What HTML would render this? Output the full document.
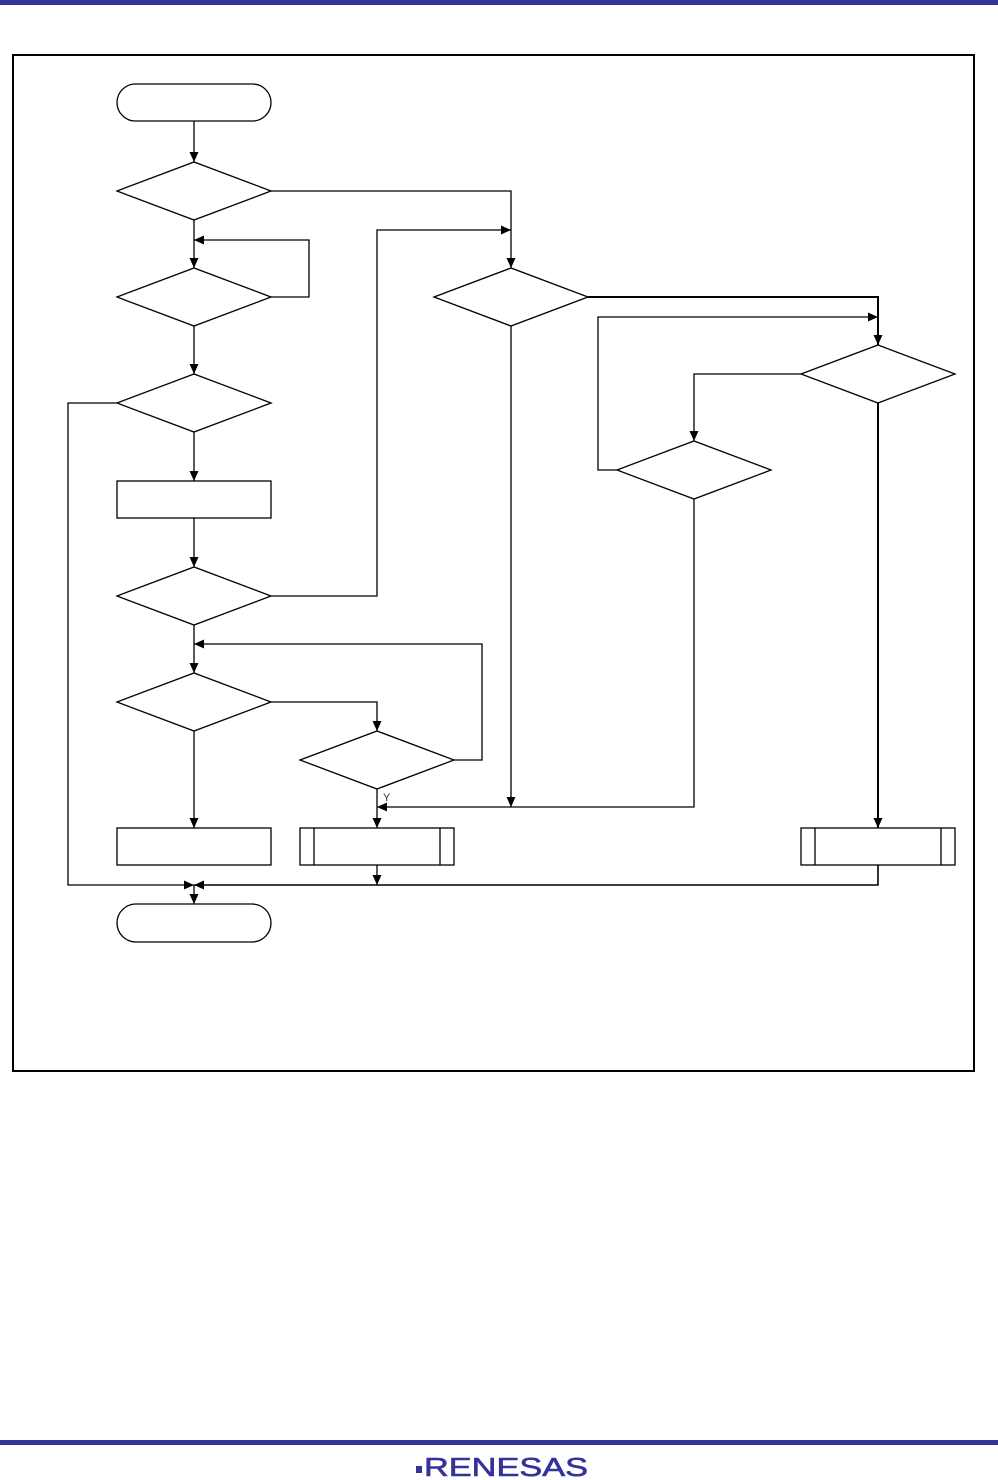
<!DOCTYPE html>
<html><head><meta charset="utf-8"><style>
html,body{margin:0;padding:0;background:#fff;width:998px;height:1480px;overflow:hidden}
</style></head><body>
<svg width="998" height="1480" viewBox="0 0 998 1480" xmlns="http://www.w3.org/2000/svg" style="position:absolute;left:0;top:0">
<defs>
<marker id="a" markerWidth="11" markerHeight="11" refX="10" refY="5" orient="auto" markerUnits="userSpaceOnUse">
<path d="M0,0.5 L10,5 L0,9.5 Z" fill="#000"/></marker>
</defs>
<rect x="0" y="0" width="998" height="5" fill="#333399"/>
<rect x="0" y="1440" width="998" height="5" fill="#333399"/>
<rect x="416" y="1466" width="6" height="7" fill="#333399"/>
<text x="424" y="1476" textLength="164" lengthAdjust="spacingAndGlyphs" font-family="Liberation Sans,sans-serif" font-size="26" fill="#333399" stroke="#333399" stroke-width="0.6">RENESAS</text>
<rect x="13" y="55" width="961" height="1016" fill="none" stroke="#000" stroke-width="2"/>
<g fill="#fff" stroke="#000" stroke-width="1.3">
<rect x="117" y="84" width="154" height="37" rx="18.5"/>
<rect x="117" y="904" width="154" height="38" rx="19"/>
<rect x="117" y="481" width="154" height="37"/>
<rect x="117" y="828" width="154" height="37"/>
<rect x="300" y="828" width="154" height="37"/>
<line x1="314" y1="828" x2="314" y2="865"/><line x1="440" y1="828" x2="440" y2="865"/>
<rect x="801" y="828" width="154" height="37"/>
<line x1="815" y1="828" x2="815" y2="865"/><line x1="941" y1="828" x2="941" y2="865"/>
<polygon points="117,191 194,162 271,191 194,220"/>
<polygon points="117,297 194,268 271,297 194,326"/>
<polygon points="117,403 194,374 271,403 194,432"/>
<polygon points="117,596 194,567 271,596 194,625"/>
<polygon points="117,702 194,673 271,702 194,731"/>
<polygon points="300,760 377,731 454,760 377,789"/>
<polygon points="434,297 511,268 588,297 511,326"/>
<polygon points="801,374 878,345 955,374 878,403"/>
<polygon points="617,470 694,441 771,470 694,499"/>
</g>
<g fill="none" stroke="#000" stroke-width="1.3">
<path d="M194,121 V162" marker-end="url(#a)"/>
<path d="M194,220 V268" marker-end="url(#a)"/>
<path d="M271,191 H511 V268" marker-end="url(#a)"/>
<path d="M271,297 H309 V240 H194" marker-end="url(#a)"/>
<path d="M194,326 V374" marker-end="url(#a)"/>
<path d="M117,403 H68 V885 H194" marker-end="url(#a)"/>
<path d="M194,432 V481" marker-end="url(#a)"/>
<path d="M194,518 V567" marker-end="url(#a)"/>
<path d="M271,596 H377 V230 H511" marker-end="url(#a)"/>
<path d="M194,625 V673" marker-end="url(#a)"/>
<path d="M454,760 H482 V644 H194" marker-end="url(#a)"/>
<path d="M271,702 H377 V731" marker-end="url(#a)"/>
<path d="M194,731 V828" marker-end="url(#a)"/>
<path d="M377,789 V828" marker-end="url(#a)"/>
<path d="M511,326 V807" marker-end="url(#a)"/>
<path d="M694,499 V807 H377" marker-end="url(#a)"/>
<path d="M588,297 H878 V345" stroke-width="2" marker-end="url(#a)"/>
<path d="M801,374 H694 V441" marker-end="url(#a)"/>
<path d="M617,470 H598 V317 H878" marker-end="url(#a)"/>
<path d="M878,403 V828" stroke-width="2" marker-end="url(#a)"/>
<path d="M377,865 V885" marker-end="url(#a)"/>
<path d="M878,865 V885 H194" stroke-width="1.6" marker-end="url(#a)"/>
<path d="M194,885 V904" marker-end="url(#a)"/>
</g>
<text x="383" y="801" font-family="Liberation Sans,sans-serif" font-size="11" fill="#333">Y</text>
</svg>
</body></html>
